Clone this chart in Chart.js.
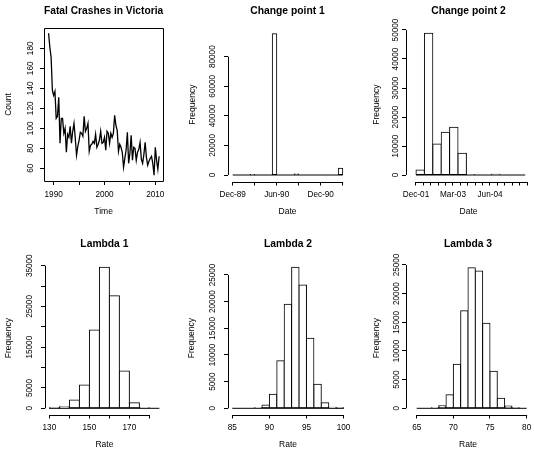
<!DOCTYPE html>
<html>
<head>
<meta charset="utf-8">
<title>Fatal crashes in Victoria - change point model</title>
<script src="https://cdn.jsdelivr.net/npm/chart.js@4.4.1/dist/chart.umd.min.js"></script>
<style>
  html, body { margin: 0; padding: 0; background: #ffffff; }
  #page { position: relative; width: 534px; height: 452px; }
  #page canvas { position: absolute; left: 0; top: 0; }
</style>
</head>
<body>
<div id="page">
  <canvas id="crashes" width="534" height="452"></canvas>
  <canvas id="cp1" width="534" height="452"></canvas>
  <canvas id="cp2" width="534" height="452"></canvas>
  <canvas id="lambda1" width="534" height="452"></canvas>
  <canvas id="lambda2" width="534" height="452"></canvas>
  <canvas id="lambda3" width="534" height="452"></canvas>
</div>
<script>
// quarterly fatal crashes, 1989 Q1 .. 2010 Q4
const crashStart = 1989;
const crashCounts = [
  195, 181, 171, 138, 133, 137, 110, 112, 131, 85, 110, 110, 95, 100, 76, 94,
  91, 102, 85, 97, 105, 90, 73, 82, 88, 96, 95, 92, 112, 97, 100, 105,
  77, 83, 84, 87, 85, 94, 81, 84, 88, 97, 85, 86, 91, 78, 97, 95,
  85, 95, 91, 95, 113, 103, 98, 77, 84, 81, 76, 61, 70, 78, 96, 65,
  75, 93, 68, 81, 80, 68, 76, 79, 86, 69, 65, 74, 86, 71, 63, 67,
  70, 72, 65, 53, 81, 68, 59, 72
];
const yearTicks = [1990, 1995, 2000, 2005, 2010];
const yearLabels = ['1990', '', '2000', '', '2010'];
const countTicks = [60, 80, 100, 120, 140, 160, 180];

// change point 1 (quarters after Dec-89)
const cp1Breaks = [0, 0.2, 0.4, 0.6, 0.8, 1, 1.2, 1.4, 1.6, 1.8, 2, 2.2, 2.4, 2.6, 2.8,
                   3, 3.2, 3.4, 3.6, 3.8, 4, 4.2, 4.4, 4.6, 4.8, 5];
const cp1Counts = [0, 0, 0, 0, 200, 0, 0, 0, 0, 95500, 0, 0, 0, 0, 700,
                   0, 0, 0, 0, 0, 0, 0, 0, 0, 4500];
const cp1Ticks = [0, 1, 2, 3, 4, 5];
const cp1Labels = ['Dec-89', '', 'Jun-90', '', 'Dec-90', ''];
const cp1FreqTicks = [0, 20000, 40000, 60000, 80000];

// change point 2 (quarters after Dec-01)
const cp2Breaks = [0, 1.14, 2.27, 3.41, 4.54, 5.68, 6.81, 7.95, 9.08, 10.22, 11.35, 12.49, 13.62, 14.76];
const cp2Counts = [1720, 48860, 10690, 14720, 16440, 7470, 150, 0, 0, 250, 0, 0, 0];
const cp2Ticks = [0, 1, 2, 3, 4, 5, 6, 7, 8, 9, 10, 11, 12, 13, 14, 15];
const cp2Labels = ['Dec-01', '', '', '', '', 'Mar-03', '', '', '', '', 'Jun-04', '', '', '', '', ''];
const cp2FreqTicks = [0, 10000, 20000, 30000, 40000, 50000];

// rates
const lambda1Breaks = [130, 135, 140, 145, 150, 155, 160, 165, 170, 175, 180, 185];
const lambda1Counts = [20, 400, 2040, 5720, 19200, 34600, 27630, 9150, 1390, 100, 0];
const lambda1Ticks = [130, 140, 150, 160, 170, 180];
const lambda1Labels = ['130', '', '150', '', '170', ''];
const lambda1FreqTicks = [0, 5000, 10000, 15000, 20000, 25000, 30000, 35000];
const lambda1FreqLabels = ['0', '5000', '', '15000', '', '25000', '', '35000'];

const lambda2Breaks = [85, 86, 87, 88, 89, 90, 91, 92, 93, 94, 95, 96, 97, 98, 99, 100];
const lambda2Counts = [0, 0, 0, 100, 620, 2620, 8930, 19500, 26440, 23120, 13120, 4500, 1050, 200, 20];
const lambda2Ticks = [85, 90, 95, 100];
const lambda2Labels = ['85', '90', '95', '100'];

const lambda3Breaks = [65, 66, 67, 68, 69, 70, 71, 72, 73, 74, 75, 76, 77, 78, 79, 80];
const lambda3Counts = [0, 0, 100, 450, 2380, 7670, 17030, 24530, 23950, 14830, 6450, 1740, 400, 60, 0];
const lambda3Ticks = [65, 70, 75, 80];
const lambda3Labels = ['65', '70', '75', '80'];

const freqTicks25 = [0, 5000, 10000, 15000, 20000, 25000];

Chart.defaults.font.family = "'Liberation Sans', Arial, Helvetica, sans-serif";
Chart.defaults.color = '#000';

const W = 534, H = 452;
const tickSize = 8.2, labelSize = 8.5, mainSize = 10.3, tickLen = 4;

const measure = document.createElement('canvas').getContext('2d');
function widest(labels) {
  measure.font = tickSize + 'px ' + Chart.defaults.font.family;
  return Math.max(...labels.map(v => measure.measureText(String(v)).width));
}

// base R look: axis lines only from first to last tick, box for plot(), zero line for hist()
const rAxes = {
  id: 'rAxes',
  afterDatasetsDraw(chart, args, opts) {
    const { ctx, chartArea: a, scales: { x, y } } = chart;
    const al = v => Math.round(v) + 0.5;
    ctx.save();
    ctx.strokeStyle = '#000';
    ctx.lineWidth = 1;
    ctx.beginPath();
    if (opts.box) {
      ctx.rect(al(a.left), al(a.top), Math.round(a.right - a.left), Math.round(a.bottom - a.top));
    } else {
      const xt = x.ticks, yt = y.ticks;
      ctx.moveTo(al(a.left), y.getPixelForValue(yt[0].value));
      ctx.lineTo(al(a.left), y.getPixelForValue(yt[yt.length - 1].value));
      ctx.moveTo(x.getPixelForValue(xt[0].value), al(a.bottom));
      ctx.lineTo(x.getPixelForValue(xt[xt.length - 1].value) + 0.5, al(a.bottom));
    }
    if (opts.breaks) {
      const y0 = y.getPixelForValue(0);
      ctx.moveTo(x.getPixelForValue(opts.breaks[0]), y0);
      ctx.lineTo(x.getPixelForValue(opts.breaks[opts.breaks.length - 1]), y0);
    }
    ctx.stroke();
    ctx.restore();
  }
};

function histData(breaks, counts) {
  return counts.map((c, i) => ({ x: (breaks[i] + breaks[i + 1]) / 2, y: c }));
}

const barStyle = {
  backgroundColor: '#fff', borderColor: '#000', borderWidth: 1, borderSkipped: false,
  barThickness: 'flex', barPercentage: 1, categoryPercentage: 1, inflateAmount: 0.5
};

function makePanel(id, p) {
  const a = p.area;
  const yLabels = p.yLabels || p.yTicks.map(String);
  const yPad = a.l - p.yLabelX - tickLen - widest(yLabels) / 2;
  const xPad = p.xLabelY - a.b - tickLen - tickSize / 2;
  const zeroPad = s => { s.paddingLeft = s.paddingRight = s.paddingTop = s.paddingBottom = 0; };
  const tickFont = { size: tickSize, lineHeight: 1 };
  const labelFont = { size: labelSize, lineHeight: 1 };
  const grid = () => ({ display: true, drawOnChartArea: false, drawTicks: true, tickLength: tickLen,
                        color: '#000', lineWidth: 1, offset: false });

  new Chart(document.getElementById(id), {
    type: p.type,
    data: { datasets: p.datasets },
    plugins: [rAxes],
    options: {
      responsive: false,
      animation: false,
      devicePixelRatio: 1,
      events: [],
      layout: { padding: { left: 0, top: 0, right: W - a.r, bottom: 0 } },
      plugins: {
        legend: { display: false },
        tooltip: { enabled: false },
        title: {
          display: true, text: p.title, fullSize: false, color: '#000',
          font: { size: mainSize, weight: 'bold', lineHeight: 1 },
          padding: { top: p.titleY - mainSize / 2, bottom: a.t - p.titleY - mainSize / 2 }
        },
        rAxes: { box: !!p.box, breaks: p.breaks || null }
      },
      scales: {
        x: {
          type: 'linear', position: 'bottom', min: p.xMin, max: p.xMax, bounds: 'data', offset: false,
          grid: grid(), border: { display: false },
          afterBuildTicks: s => { s.ticks = p.xTicks.map(v => ({ value: v })); },
          afterFit: s => { s.height = H - a.b; zeroPad(s); },
          ticks: { autoSkip: false, minRotation: 0, maxRotation: 0, padding: xPad, font: tickFont,
                   color: '#000', callback: (v, i) => p.xLabels[i] },
          title: { display: true, text: p.xTitle, font: labelFont, color: '#000',
                   padding: { top: 0, bottom: H - p.xTitleY - labelSize / 2 } }
        },
        y: {
          type: 'linear', position: 'left', min: p.yMin, max: p.yMax, bounds: 'data',
          grid: grid(), border: { display: false },
          afterBuildTicks: s => { s.ticks = p.yTicks.map(v => ({ value: v })); },
          afterFit: s => { s.width = a.l; zeroPad(s); },
          ticks: { autoSkip: false, minRotation: 90, maxRotation: 90, crossAlign: 'center', padding: yPad,
                   font: tickFont, color: '#000', callback: (v, i) => yLabels[i] },
          title: { display: true, text: p.yTitle, font: labelFont, color: '#000',
                   padding: { top: p.yTitleX - labelSize / 2, bottom: 0 } }
        }
      }
    }
  });
}

const topRow = { titleY: 11, xLabelY: 194.5, xTitleY: 211.7 };
const bottomRow = { titleY: 244.3, xLabelY: 427.5, xTitleY: 445 };

makePanel('crashes', Object.assign({}, topRow, {
  type: 'line', title: 'Fatal Crashes in Victoria', xTitle: 'Time', yTitle: 'Count', box: true,
  area: { l: 44, t: 28, r: 163.2, b: 181 }, yLabelX: 30.8, yTitleX: 8.3,
  xMin: 1988.1, xMax: 2011.55, yMin: 47.3, yMax: 200.3,
  xTicks: yearTicks, xLabels: yearLabels, yTicks: countTicks,
  datasets: [{
    data: crashCounts.map((v, i) => ({ x: crashStart + i / 4, y: v })),
    borderColor: '#000', borderWidth: 1.3, pointRadius: 0, tension: 0, fill: false
  }]
}));

makePanel('cp1', Object.assign({}, topRow, {
  type: 'bar', title: 'Change point 1', xTitle: 'Date', yTitle: 'Frequency', breaks: cp1Breaks,
  area: { l: 228, t: 27.7, r: 347, b: 181.5 }, yLabelX: 212.8, yTitleX: 192.3,
  xMin: -0.214, xMax: 5.195, yMin: -4395, yMax: 99608,
  xTicks: cp1Ticks, xLabels: cp1Labels, yTicks: cp1FreqTicks,
  datasets: [Object.assign({ data: histData(cp1Breaks, cp1Counts) }, barStyle)]
}));

makePanel('cp2', Object.assign({}, topRow, {
  type: 'bar', title: 'Change point 2', xTitle: 'Date', yTitle: 'Frequency', breaks: cp2Breaks,
  area: { l: 406, t: 27.7, r: 531, b: 181.5 }, yLabelX: 396.2, yTitleX: 376.3,
  xMin: -1.35, xMax: 15.54, yMin: -2241, yMax: 50793,
  xTicks: cp2Ticks, xLabels: cp2Labels, yTicks: cp2FreqTicks,
  datasets: [Object.assign({ data: histData(cp2Breaks, cp2Counts) }, barStyle)]
}));

makePanel('lambda1', Object.assign({}, bottomRow, {
  type: 'bar', title: 'Lambda 1', xTitle: 'Rate', yTitle: 'Frequency', breaks: lambda1Breaks,
  area: { l: 45, t: 261.7, r: 163.8, b: 414.5 }, yLabelX: 30, yTitleX: 8.3,
  xMin: 127.8, xMax: 187.2, yMin: -1522, yMax: 35984,
  xTicks: lambda1Ticks, xLabels: lambda1Labels, yTicks: lambda1FreqTicks, yLabels: lambda1FreqLabels,
  datasets: [Object.assign({ data: histData(lambda1Breaks, lambda1Counts) }, barStyle)]
}));

makePanel('lambda2', Object.assign({}, bottomRow, {
  type: 'bar', title: 'Lambda 2', xTitle: 'Rate', yTitle: 'Frequency', breaks: lambda2Breaks,
  area: { l: 228, t: 261.7, r: 348, b: 414.5 }, yLabelX: 213, yTitleX: 192,
  xMin: 84.42, xMax: 100.6, yMin: -1163, yMax: 27490,
  xTicks: lambda2Ticks, xLabels: lambda2Labels, yTicks: freqTicks25,
  datasets: [Object.assign({ data: histData(lambda2Breaks, lambda2Counts) }, barStyle)]
}));

makePanel('lambda3', Object.assign({}, bottomRow, {
  type: 'bar', title: 'Lambda 3', xTitle: 'Rate', yTitle: 'Frequency', breaks: lambda3Breaks,
  area: { l: 406, t: 261.7, r: 530, b: 414.5 }, yLabelX: 396.3, yTitleX: 376.7,
  xMin: 63.54, xMax: 80.46, yMin: -1081, yMax: 25571,
  xTicks: lambda3Ticks, xLabels: lambda3Labels, yTicks: freqTicks25,
  datasets: [Object.assign({ data: histData(lambda3Breaks, lambda3Counts) }, barStyle)]
}));
</script>
</body>
</html>
